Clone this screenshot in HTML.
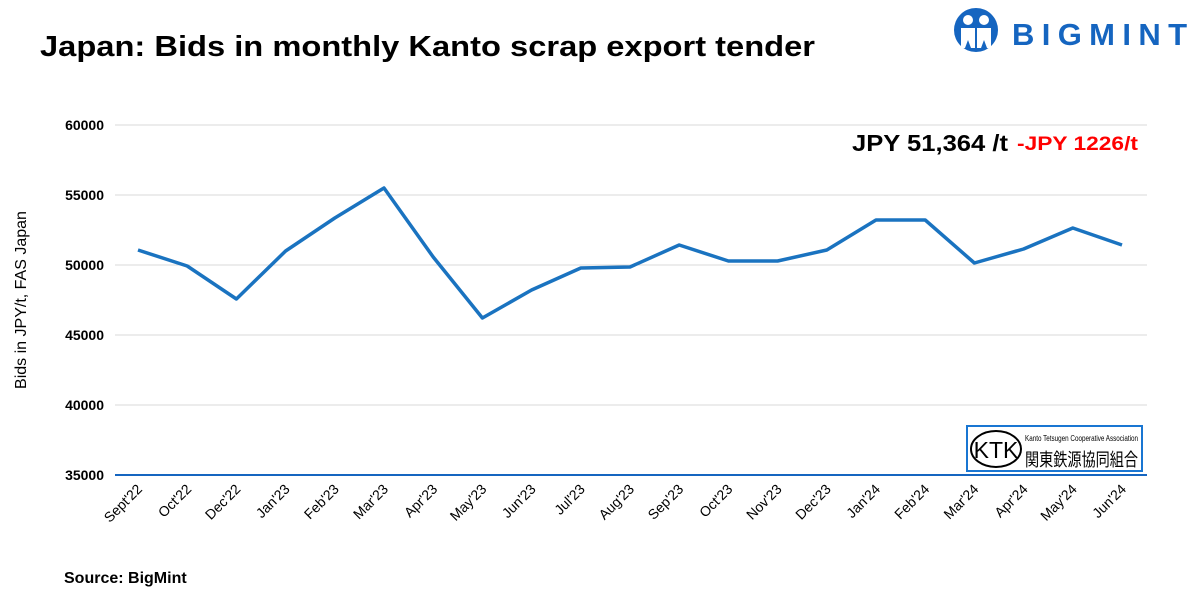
<!DOCTYPE html>
<html><head><meta charset="utf-8"><style>
body{margin:0;background:#fff;width:1200px;height:600px;overflow:hidden;font-family:"Liberation Sans",Arial,sans-serif}
</style></head><body>
<svg width="1200" height="600" xmlns="http://www.w3.org/2000/svg" font-family="Liberation Sans, Arial, sans-serif">
<text x="40" y="56" font-size="29" font-weight="bold" fill="#000" textLength="775" lengthAdjust="spacingAndGlyphs">Japan: Bids in monthly Kanto scrap export tender</text>
<g fill="#1565c0">
<circle cx="976" cy="30" r="22"/>
<circle cx="968" cy="20" r="5" fill="#fff"/><circle cx="984" cy="20" r="5" fill="#fff"/>
<path d="M961 28 h14 v20 h-4 l-3 -8 l-3 8 h-4z M977 28 h14 v20 h-4 l-3 -8 l-3 8 h-4z" fill="#fff"/>
<text x="1012" y="45" font-size="31" font-weight="bold" textLength="175" lengthAdjust="spacing">BIGMINT</text>
</g>
<g stroke="#d9d9d9" stroke-width="1">
<line x1="115" x2="1147" y1="125" y2="125"/><line x1="115" x2="1147" y1="195" y2="195"/>
<line x1="115" x2="1147" y1="265" y2="265"/><line x1="115" x2="1147" y1="335" y2="335"/>
<line x1="115" x2="1147" y1="405" y2="405"/>
</g>
<line x1="115" x2="1147" y1="475" y2="475" stroke="#1565c0" stroke-width="2"/>
<g font-size="14" font-weight="bold" text-anchor="end" fill="#000">
<text x="104" y="130">60000</text><text x="104" y="200">55000</text><text x="104" y="270">50000</text>
<text x="104" y="340">45000</text><text x="104" y="410">40000</text><text x="104" y="480">35000</text>
</g>
<text transform="translate(26,300) rotate(-90)" font-size="16" text-anchor="middle">Bids in JPY/t, FAS Japan</text>
<rect x="967" y="426" width="175" height="45" fill="#fff" stroke="#1976d2" stroke-width="2"/>
<ellipse cx="996" cy="449" rx="25" ry="18" fill="none" stroke="#000" stroke-width="2"/>
<text x="996" y="458" font-size="23" text-anchor="middle">KTK</text>
<text x="1025" y="441" font-size="8" textLength="113" lengthAdjust="spacingAndGlyphs">Kanto Tetsugen Cooperative Association</text>
<text x="1025" y="466" font-size="18" font-family="Noto Sans CJK JP, sans-serif" textLength="113" lengthAdjust="spacingAndGlyphs">関東鉄源協同組合</text>
<polyline fill="none" stroke="#1a73c0" stroke-width="3.5" stroke-linejoin="round" points="138,250 187.2,266 236.4,299 285.6,251 334.8,218 384,188 433.2,257 482.4,318 531.6,290 580.8,268 630,267 679.2,245 728.4,261 777.6,261 826.8,250 876,220 925.2,220 974.4,263 1023.6,249 1072.8,228 1122,245"/>
<text x="1008" y="151" font-size="23" font-weight="bold" text-anchor="end" textLength="156" lengthAdjust="spacingAndGlyphs">JPY 51,364 /t</text>
<text x="1017" y="150" font-size="19" font-weight="bold" fill="#f00" textLength="121" lengthAdjust="spacingAndGlyphs">-JPY 1226/t</text>
<g font-size="14" text-anchor="end">
<text transform="translate(143,490) rotate(-45)">Sept'22</text>
<text transform="translate(192.2,490) rotate(-45)">Oct'22</text>
<text transform="translate(241.4,490) rotate(-45)">Dec'22</text>
<text transform="translate(290.6,490) rotate(-45)">Jan'23</text>
<text transform="translate(339.8,490) rotate(-45)">Feb'23</text>
<text transform="translate(389,490) rotate(-45)">Mar'23</text>
<text transform="translate(438.2,490) rotate(-45)">Apr'23</text>
<text transform="translate(487.4,490) rotate(-45)">May'23</text>
<text transform="translate(536.6,490) rotate(-45)">Jun'23</text>
<text transform="translate(585.8,490) rotate(-45)">Jul'23</text>
<text transform="translate(635,490) rotate(-45)">Aug'23</text>
<text transform="translate(684.2,490) rotate(-45)">Sep'23</text>
<text transform="translate(733.4,490) rotate(-45)">Oct'23</text>
<text transform="translate(782.6,490) rotate(-45)">Nov'23</text>
<text transform="translate(831.8,490) rotate(-45)">Dec'23</text>
<text transform="translate(881,490) rotate(-45)">Jan'24</text>
<text transform="translate(930.2,490) rotate(-45)">Feb'24</text>
<text transform="translate(979.4,490) rotate(-45)">Mar'24</text>
<text transform="translate(1028.6,490) rotate(-45)">Apr'24</text>
<text transform="translate(1077.8,490) rotate(-45)">May'24</text>
<text transform="translate(1127,490) rotate(-45)">Jun'24</text>
</g>
<text x="64" y="583" font-size="16" font-weight="bold">Source: BigMint</text>
</svg>
</body></html>
